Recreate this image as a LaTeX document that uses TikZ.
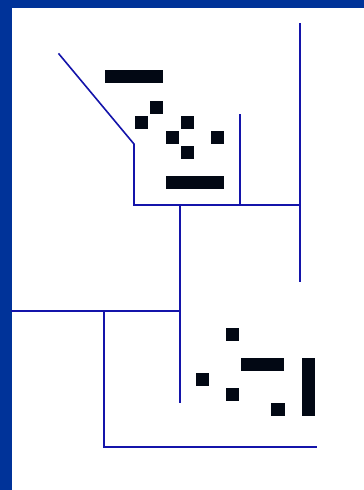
\documentclass[tikz,border=0pt]{standalone}
\usepackage{xcolor}
\usetikzlibrary{positioning}
\definecolor{frameBlue}{RGB}{0,51,153}
\definecolor{wallBlue}{RGB}{20,20,170}
\definecolor{blockBlack}{RGB}{2,8,20}
\tikzset{
  wall/.style  = {draw=wallBlue, line width=1.6pt, line cap=rect},
  block/.style = {fill=blockBlack, inner sep=0pt, anchor=north west,
                  minimum width=13pt, minimum height=13pt},
  hbar/.style  = {block, minimum width=58pt},
  vbar/.style  = {block, minimum height=58pt}
}

\begin{document}
\begin{tikzpicture}[x=1pt, y=-1pt]

% frame
\fill[frameBlue] (0,0) rectangle (364,490);
\fill[white] (12,8) rectangle (364,490);
\useasboundingbox (0,0) rectangle (364,490);

% corners of the walls
\coordinate (funnel) at (59,54);
\coordinate (bend) at (134,144);
\coordinate (floorL) at (134,205);
\coordinate (floorM) at (180,205);
\coordinate (floorR) at (300,205);
\coordinate (stubTop) at (240,115);
\coordinate (stubBot) at (240,205);
\coordinate (rightTop) at (300,24);
\coordinate (rightBot) at (300,281);
\coordinate (shaftBot) at (180,402);
\coordinate (ledgeL) at (12,311);
\coordinate (ledgeR) at (180,311);
\coordinate (pitTop) at (104,311);
\coordinate (pitCorner) at (104,447);
\coordinate (pitEnd) at (316,447);

% walls
\draw[wall] (funnel) -- (bend) -- (floorL) -- (floorR);
\draw[wall] (stubTop) -- (stubBot);
\draw[wall] (rightTop) -- (rightBot);
\draw[wall] (floorM) -- (shaftBot);
\draw[wall] (ledgeL) -- (ledgeR);
\draw[wall] (pitTop) -- (pitCorner) -- (pitEnd);

% upper blocks
\node[hbar] (topbar) at (105,70) {};
\node[block] (b1) at (150,101) {};
\node[block] (b2) at (135,116) {};
\node[block] (b3) at (181,116) {};
\node[block] (b4) at (166,131) {};
\node[block] (b5) at (211,131) {};
\node[block] (b6) at (181,146) {};
\node[hbar] (botbar) at (166,176) {};

% lower blocks
\node[block] (c1) at (226,328) {};
\node[hbar, minimum width=43pt] (midbar) at (241,358) {};
\node[vbar] (sidebar) at (302,358) {};
\node[block] (c2) at (196,373) {};
\node[block] (c3) at (226,388) {};
\node[block, minimum width=14pt] (c4) at (271,403) {};

\end{tikzpicture}
\end{document}
